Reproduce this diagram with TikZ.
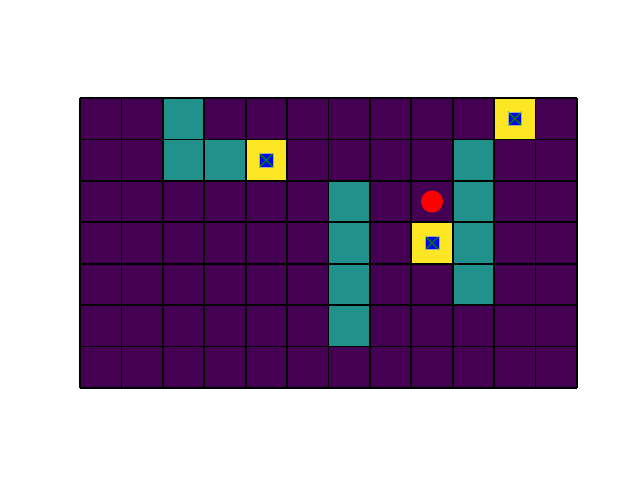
\documentclass[tikz,border=0pt]{standalone}
\usepackage{tikz}
\usetikzlibrary{positioning}
\definecolor{cP}{RGB}{68,1,84}
\definecolor{cT}{RGB}{33,145,140}
\definecolor{cY}{RGB}{253,231,37}
\definecolor{cG}{RGB}{0,128,0}

\begin{document}
\begin{tikzpicture}[x=1.035cm, y=1.035cm,
    wall/.style={fill=cT},
    goal/.style={fill=cY},
    gridline/.style={black, line width=1.3pt},
    target/.style={rectangle, fill=blue, draw=gray!70, line width=0.4pt, minimum size=0.34cm, inner sep=0pt,
        path picture={\draw[cG, line width=1pt] (path picture bounding box.south west) -- (path picture bounding box.north east)
                                                (path picture bounding box.north west) -- (path picture bounding box.south east);}},
    agent/.style={circle, fill=red, minimum size=0.55cm, inner sep=0pt}]
    \useasboundingbox (-1.932,-2.246) rectangle (13.522,9.367);

    % Floor
    \fill[cP] (0,0) rectangle (12,7);

    % Walls (column/row from top)
    \foreach \c/\r in {2/0, 2/1, 3/1, 9/1, 6/2, 9/2, 6/3, 9/3, 6/4, 9/4, 6/5}
        \fill[wall] (\c,6-\r) rectangle ++(1,1);

    % Goal cells
    \foreach \c/\r/\n in {10/0/a, 4/1/b, 8/3/c} {
        \fill[goal] (\c,6-\r) rectangle ++(1,1);
        \coordinate (g\n) at (\c+0.5,6.5-\r);
    }

    % Grid
    \foreach \c in {0,...,12}
        \draw[gridline] (\c,0) -- (\c,7);
    \foreach \r in {0,...,7}
        \draw[gridline] (0,\r) -- (12,\r);

    % Markers
    \node[target] (ta) at (ga) {};
    \node[target] (tb) at (gb) {};
    \node[target] (tc) at (gc) {};
    \node[agent] (ag) at (8.5,4.5) {};
\end{tikzpicture}
\end{document}
